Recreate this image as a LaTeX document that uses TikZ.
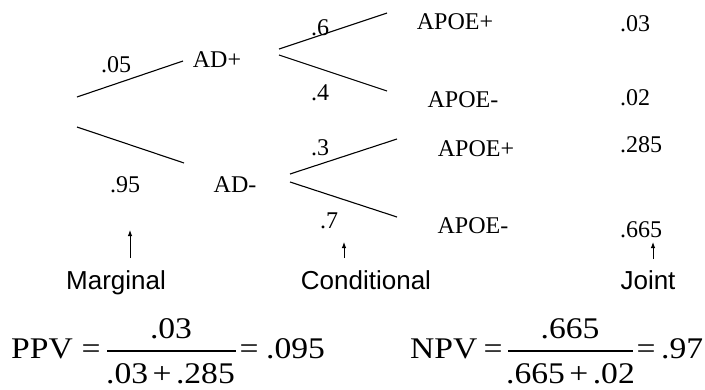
\documentclass[tikz,border=0pt]{standalone}
\usepackage{fontspec}
\setmainfont{Liberation Serif}
\newfontfamily\arialfont{Liberation Sans}
\usetikzlibrary{arrows.meta}
% horizontally widened text for the formulas
\newcommand\wideeq[1]{\scalebox{1.12}[1]{#1}}
% space around the plus sign in a denominator
\newcommand\plusgap{\hspace{4pt}+\hspace{4pt}}
\begin{document}
\begin{tikzpicture}[x=1pt,y=-1pt,
  lbl/.style={font=\fontsize{24}{28}\selectfont, inner sep=0pt, anchor=base},
  axislbl/.style={font=\arialfont\fontsize{26}{30}\selectfont, inner sep=0pt, anchor=base},
  eqtext/.style={font=\fontsize{30}{36}\selectfont, inner sep=0pt, anchor=base},
  branch/.style={line width=1.1pt},
  pointer/.style={line width=1pt, -{Latex[length=6pt,width=4.5pt]}},
  fracbar/.style={line width=1.4pt},
]
\useasboundingbox (0,0) rectangle (705,389);

% ---- tree labels ----
\node[lbl] (p05) at (116,72) {.05};
\node[lbl] (adpos) at (217,67) {AD+};
\node[lbl] (p95) at (125,192) {.95};
\node[lbl] (adneg) at (235,192) {AD-};
\node[lbl] (p6) at (320,35) {.6};
\node[lbl] (p4) at (320,100) {.4};
\node[lbl] (p3) at (320,155) {.3};
\node[lbl] (p7) at (329,228) {.7};
\node[lbl] (apos1) at (455,29) {APOE+};
\node[lbl] (aneg1) at (463,107) {APOE-};
\node[lbl] (apos2) at (476,156) {APOE+};
\node[lbl] (aneg2) at (473,233) {APOE-};

% ---- joint probabilities ----
\node[lbl, anchor=base west] (j1) at (620,31) {.03};
\node[lbl, anchor=base west] (j2) at (620,105) {.02};
\node[lbl, anchor=base west] (j3) at (620,152) {.285};
\node[lbl, anchor=base west] (j4) at (620,237) {.665};

% ---- branch end points ----
\coordinate (rootA) at (77,97);
\coordinate (rootB) at (77,127);
\coordinate (adposIn) at (183,61);
\coordinate (adnegIn) at (184,163);
\coordinate (adposOutA) at (279,49);
\coordinate (adposOutB) at (279,55);
\coordinate (adnegOutA) at (290,174);
\coordinate (adnegOutB) at (290,182);
\coordinate (apos1In) at (387,13);
\coordinate (aneg1In) at (387,91);
\coordinate (apos2In) at (397,139);
\coordinate (aneg2In) at (397,217);

\draw[branch] (rootA) -- (adposIn);
\draw[branch] (rootB) -- (adnegIn);
\draw[branch] (adposOutA) -- (apos1In);
\draw[branch] (adposOutB) -- (aneg1In);
\draw[branch] (adnegOutA) -- (apos2In);
\draw[branch] (adnegOutB) -- (aneg2In);

% ---- column captions with pointers ----
\node[axislbl] (marg) at (116,289) {Marginal};
\node[axislbl] (cond) at (366,289) {Conditional};
\node[axislbl] (joint) at (648,289) {Joint};

\coordinate (margTail) at (130,258);
\coordinate (margTip) at (130,230);
\coordinate (condTail) at (344,258);
\coordinate (condTip) at (344,242);
\coordinate (jointTail) at (653,259);
\coordinate (jointTip) at (653,242);
\draw[pointer] (margTail) -- (margTip);
\draw[pointer] (condTail) -- (condTip);
\draw[pointer] (jointTail) -- (jointTip);

% ---- PPV formula ----
\node[eqtext, anchor=base west] (ppv) at (11,358) {\wideeq{PPV}};
\node[eqtext] (ppvEq) at (91,358) {\wideeq{=}};
\node[eqtext] (ppvNum) at (171,338) {\wideeq{.03}};
\node[eqtext] (ppvDen) at (170.5,383) {\wideeq{.03\plusgap.285}};
\coordinate (ppvBarL) at (107,351);
\coordinate (ppvBarR) at (236,351);
\draw[fracbar] (ppvBarL) -- (ppvBarR);
\node[eqtext] (ppvEq2) at (249,358) {\wideeq{=}};
\node[eqtext, anchor=base west] (ppvVal) at (266,358) {\wideeq{.095}};

% ---- NPV formula ----
\node[eqtext, anchor=base west] (npv) at (410,358) {\wideeq{NPV}};
\node[eqtext] (npvEq) at (493,358) {\wideeq{=}};
\node[eqtext] (npvNum) at (570,338) {\wideeq{.665}};
\node[eqtext] (npvDen) at (570.5,383) {\wideeq{.665\plusgap.02}};
\coordinate (npvBarL) at (508,351);
\coordinate (npvBarR) at (633,351);
\draw[fracbar] (npvBarL) -- (npvBarR);
\node[eqtext] (npvEq2) at (646,358) {\wideeq{=}};
\node[eqtext, anchor=base west] (npvVal) at (661,358) {\wideeq{.97}};
\end{tikzpicture}
\end{document}
